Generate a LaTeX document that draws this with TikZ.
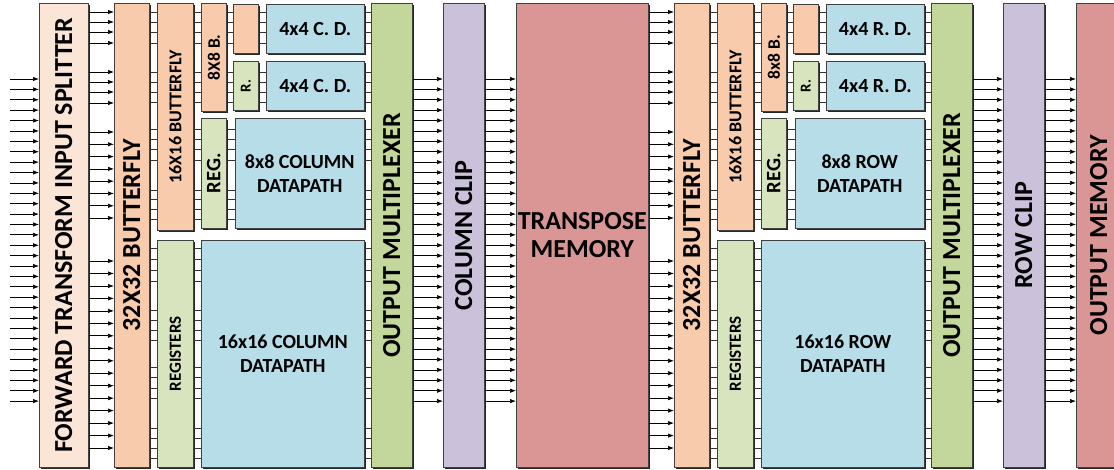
\documentclass[tikz,border=0pt]{standalone}
\usepackage{fontspec}
\setmainfont{Carlito}
\usetikzlibrary{arrows.meta,shadows}

\definecolor{splitc}{HTML}{FBE5D6}
\definecolor{bflyc}{HTML}{F8CBAD}
\definecolor{regc}{HTML}{D7E4BD}
\definecolor{muxc}{HTML}{C3D69B}
\definecolor{dpc}{HTML}{B7DEE8}
\definecolor{clipc}{HTML}{CCC1DA}
\definecolor{memc}{HTML}{D99694}

% signal rows (pixels from the top)
\newcommand\ytop{12,22,32,43}
\newcommand\ysec{72,82,92,102}
\newcommand\yeight{129,139,149,160,190,199,209,219}
\newcommand\ysixteen{248,259,270,281,310,320,330,340,367,377,388,398,428,438,448,458}
\newcommand\yupper{12,22,32,43,72,82,92,102,129,139,149,160,190,199,209,219}
\newcommand\yfeed{12,22,32,43,72,82,92,103,132,144.3,156.6,168.9,181.2,193.5,205.8,218,261,273.5,286,298.4,310.9,323.4,335.8,348.3,360.8,373.2,385.7,398.2,410.6,423.1,435.6,448}

\tikzset{
  blk/.style={draw=black!75, line width=0.6pt, anchor=north west, inner sep=0pt,
    drop shadow={shadow xshift=1.5pt, shadow yshift=-1.5pt, fill=black, opacity=.85}},
  sig/.style={-{Latex[length=6pt,width=4.4pt]}, line width=0.7pt},
  stub/.style={line width=0.7pt, black!80},
  big/.style={font=\bfseries\fontsize{26}{28}\selectfont, align=center},
  mid/.style={font=\bfseries\fontsize{20}{24}\selectfont, align=center},
  sml/.style={font=\bfseries\fontsize{#1}{#1}\selectfont},
}

\begin{document}
\begin{tikzpicture}[x=1pt, y=-1pt]
\useasboundingbox (0,0) rectangle (1114,470);

% input splitter
\node[blk, fill=splitc, minimum width=49pt, minimum height=464pt] (split) at (39,3) {};
\node[big, rotate=90] (split-t) at (split) {FORWARD TRANSFORM INPUT SPLITTER};

% column half and row half
\foreach \side/\dx/\abbr/\kind/\bname/\cliptxt in {c/0/C/COLUMN/8X8/COLUMN CLIP, r/560/R/ROW/8x8/ROW CLIP} {
  \begin{scope}[xshift=\dx]
    \node[blk, fill=bflyc, minimum width=35pt, minimum height=464pt] (bf32\side) at (114,3) {};
    \node[big, rotate=90] (bf32\side-t) at (bf32\side) {32X32 BUTTERFLY};
    \node[blk, fill=bflyc, minimum width=36pt, minimum height=227pt] (bf16\side) at (157,3) {};
    \node[sml=18, rotate=90] (bf16\side-t) at (bf16\side) {16X16 BUTTERFLY};
    \node[blk, fill=regc, minimum width=36pt, minimum height=227pt] (regs\side) at (157,240) {};
    \node[sml=17, rotate=90] (regs\side-t) at (regs\side) {REGISTERS};
    \node[blk, fill=bflyc, minimum width=25pt, minimum height=108pt] (b8\side) at (201,3) {};
    \node[sml=17.5, rotate=90] (b8\side-t) at (b8\side) {\bname{} B.};
    \node[blk, fill=regc, minimum width=25pt, minimum height=110pt] (rg\side) at (201,118) {};
    \node[sml=20.5, rotate=90] (rg\side-t) at (rg\side) {REG.};
    \node[blk, fill=bflyc, minimum width=25pt, minimum height=49pt] (p\side) at (233,4) {};
    \node[blk, fill=regc, minimum width=25pt, minimum height=49pt] (r\side) at (233,61) {};
    \node[sml=15, rotate=90] (r\side-t) at (r\side) {R.};
    \node[blk, fill=dpc, minimum width=98pt, minimum height=49pt] (cda\side) at (266,4) {};
    \node[mid] (cda\side-t) at (cda\side) {4x4 \abbr. D.};
    \node[blk, fill=dpc, minimum width=98pt, minimum height=49pt] (cdb\side) at (266,61) {};
    \node[mid] (cdb\side-t) at (cdb\side) {4x4 \abbr. D.};
    \node[blk, fill=dpc, minimum width=129pt, minimum height=110pt] (dpe\side) at (235,118) {};
    \node[mid] (dpe\side-t) at (dpe\side) {8x8 \kind\\DATAPATH};
    \node[blk, fill=dpc, minimum width=163pt, minimum height=227pt] (dps\side) at (201,240) {};
    \node[mid] (dps\side-t) at (dps\side) {16x16 \kind\\DATAPATH};
    \node[blk, fill=muxc, minimum width=41pt, minimum height=464pt] (om\side) at (371,3) {};
    \node[big, rotate=90] (om\side-t) at (om\side) {OUTPUT MULTIPLEXER};
    \node[blk, fill=clipc, minimum width=41pt, minimum height=464pt] (clip\side) at (443,3) {};
    \node[big, rotate=90] (clip\side-t) at (clip\side) {\cliptxt};

    % internal buses
    \foreach \y in \yupper {
      \coordinate (lvl) at (0,\y);
      \draw[stub] (bf32\side.east |- lvl) -- (bf16\side.west |- lvl);
    }
    \foreach \y in \ysixteen {
      \coordinate (lvl) at (0,\y);
      \draw[stub] (bf32\side.east |- lvl) -- (regs\side.west |- lvl);
      \draw[stub] (regs\side.east |- lvl) -- (dps\side.west |- lvl);
      \draw[stub] (dps\side.east |- lvl) -- (om\side.west |- lvl);
    }
    \foreach \y in \ytop {
      \coordinate (lvl) at (0,\y);
      \draw[stub] (bf16\side.east |- lvl) -- (b8\side.west |- lvl);
      \draw[stub] (b8\side.east |- lvl) -- (p\side.west |- lvl);
      \draw[stub] (p\side.east |- lvl) -- (cda\side.west |- lvl);
      \draw[stub] (cda\side.east |- lvl) -- (om\side.west |- lvl);
    }
    \foreach \y in \ysec {
      \coordinate (lvl) at (0,\y);
      \draw[stub] (bf16\side.east |- lvl) -- (b8\side.west |- lvl);
      \draw[stub] (b8\side.east |- lvl) -- (r\side.west |- lvl);
      \draw[stub] (r\side.east |- lvl) -- (cdb\side.west |- lvl);
      \draw[stub] (cdb\side.east |- lvl) -- (om\side.west |- lvl);
    }
    \foreach \y in \yeight {
      \coordinate (lvl) at (0,\y);
      \draw[stub] (bf16\side.east |- lvl) -- (rg\side.west |- lvl);
      \draw[stub] (rg\side.east |- lvl) -- (dpe\side.west |- lvl);
      \draw[stub] (dpe\side.east |- lvl) -- (om\side.west |- lvl);
    }
    \foreach \k [evaluate=\k as \y using 79+10.39*\k] in {0,...,31} {
      \coordinate (lvl) at (0,\y);
      \draw[sig] (om\side.east |- lvl) -- (clip\side.west |- lvl);
    }
  \end{scope}
}

% memories
\node[blk, fill=memc, minimum width=132pt, minimum height=464pt] (tmem) at (516,3) {};
\node[big] (tmem-t) at (tmem) {TRANSPOSE\\MEMORY};
\node[blk, fill=memc, minimum width=45pt, minimum height=464pt] (omem) at (1076,3) {};
\node[big, rotate=90] (omem-t) at (omem) {OUTPUT MEMORY};

% wide buses
\coordinate (inp) at (10,0);
\foreach \k [evaluate=\k as \y using 79+10.39*\k] in {0,...,31} {
  \coordinate (lvl) at (0,\y);
  \draw[sig] (inp |- lvl) -- (split.west |- lvl);
  \draw[sig] (clipc.east |- lvl) -- (tmem.west |- lvl);
  \draw[sig] (clipr.east |- lvl) -- (omem.west |- lvl);
}
\foreach \y in \yfeed {
  \coordinate (lvl) at (0,\y);
  \draw[sig] (split.east |- lvl) -- (bf32c.west |- lvl);
  \draw[sig] (tmem.east |- lvl) -- (bf32r.west |- lvl);
}
\end{tikzpicture}
\end{document}
